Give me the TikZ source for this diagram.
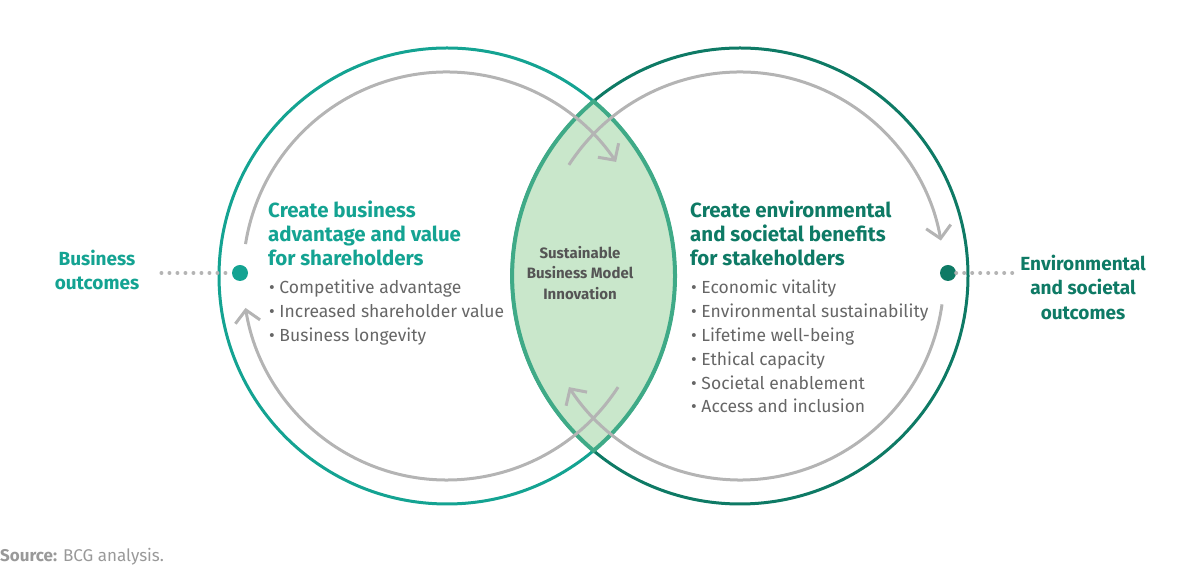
\documentclass[tikz,border=0pt]{standalone}
\usepackage{fontspec}
\setmainfont{Fira Sans}
\usetikzlibrary{arrows.meta,calc}
\definecolor{bizteal}{HTML}{14A392}
\definecolor{envgreen}{HTML}{0E7A65}
\definecolor{lensfill}{HTML}{C9E7CB}
\definecolor{lensedge}{HTML}{3FAA87}
\definecolor{flowgray}{HTML}{B4B4B4}
\definecolor{textgray}{HTML}{666666}
\definecolor{coregray}{HTML}{555555}
\definecolor{notegray}{HTML}{999999}
\begin{document}
\begin{tikzpicture}[x=1pt, y=1pt,
  flow/.style={flowgray, line width=3pt, -{Straight Barb[length=12pt, width=25pt]}},
  ring/.style={line width=3pt},
  dots/.style={flowgray, line width=4pt, line cap=round, dash pattern=on 0pt off 8pt},
  heading/.style={font=\fontsize{20.5}{24}\selectfont\bfseries, align=left, anchor=north west, inner sep=0pt},
  items/.style={textgray, font=\fontsize{17.5}{23.8}\selectfont, align=left, anchor=north west, inner sep=0pt},
  outcome/.style={font=\fontsize{19}{24.5}\selectfont\bfseries, align=center, inner sep=0pt}]
\useasboundingbox (0,0) rectangle (1197,572);
\coordinate (lc) at (447,296);
\coordinate (rc) at (740,296);

\draw[ring, bizteal] (lc) circle (228);
\draw[ring, envgreen] (rc) circle (228);
\begin{scope}
\clip (lc) circle (228);
\fill[lensfill] (rc) circle (228);
\end{scope}
\draw[lensedge, line width=4pt] ($(lc)+(-50:228)$) arc[start angle=-50, end angle=50, radius=228]
  arc[start angle=130, end angle=230, radius=228] -- cycle;

\coordinate (lt) at ($(lc)+(171:204)$);
\coordinate (lb) at ($(lc)+(-33:204)$);
\coordinate (rt) at ($(rc)+(147:204)$);
\coordinate (rb) at ($(rc)+(-8:204)$);
\draw[flow] (lt) arc[start angle=171, end angle=34, radius=204];
\draw[flow] (lb) arc[start angle=-33, end angle=-171, radius=204];
\draw[flow] (rt) arc[start angle=147, end angle=10, radius=204];
\draw[flow] (rb) arc[start angle=-8, end angle=-147, radius=204];

\node[circle, fill=bizteal, minimum size=16pt, inner sep=0pt] (bizdot) at (240,299) {};
\node[circle, fill=envgreen, minimum size=16pt, inner sep=0pt] (envdot) at (948,299) {};
\node[outcome, bizteal] (bizout) at (97,302) {Business\\outcomes};
\node[outcome, envgreen] (envout) at (1083,285) {Environmental\\and societal\\outcomes};
\draw[dots] ([xshift=22pt]bizout.east |- bizdot) -- (bizdot.west);
\draw[dots] (envdot.east) -- ([xshift=-2pt]envout.west |- envdot);

\node[heading, bizteal] (bizhead) at (268,371) {Create business\\advantage and value\\for shareholders};
\node[items] (bizitems) at (269,292) {• Competitive advantage\\• Increased shareholder value\\• Business longevity};
\node[heading, envgreen] (envhead) at (690,371) {Create environmental\\and societal benefits\\for stakeholders};
\node[items] (envitems) at (691,292) {• Economic vitality\\• Environmental sustainability\\• Lifetime well-being\\• Ethical capacity\\• Societal enablement\\• Access and inclusion};
\node[coregray, font=\fontsize{15}{20.5}\selectfont\bfseries, align=center, inner sep=0pt] (core) at (580,299) {Sustainable\\Business Model\\Innovation};

\node[anchor=base west, notegray, font=\fontsize{17}{18}\selectfont, inner sep=0pt] (source) at (0,10) {\textbf{Source:} BCG analysis.};
\end{tikzpicture}
\end{document}
